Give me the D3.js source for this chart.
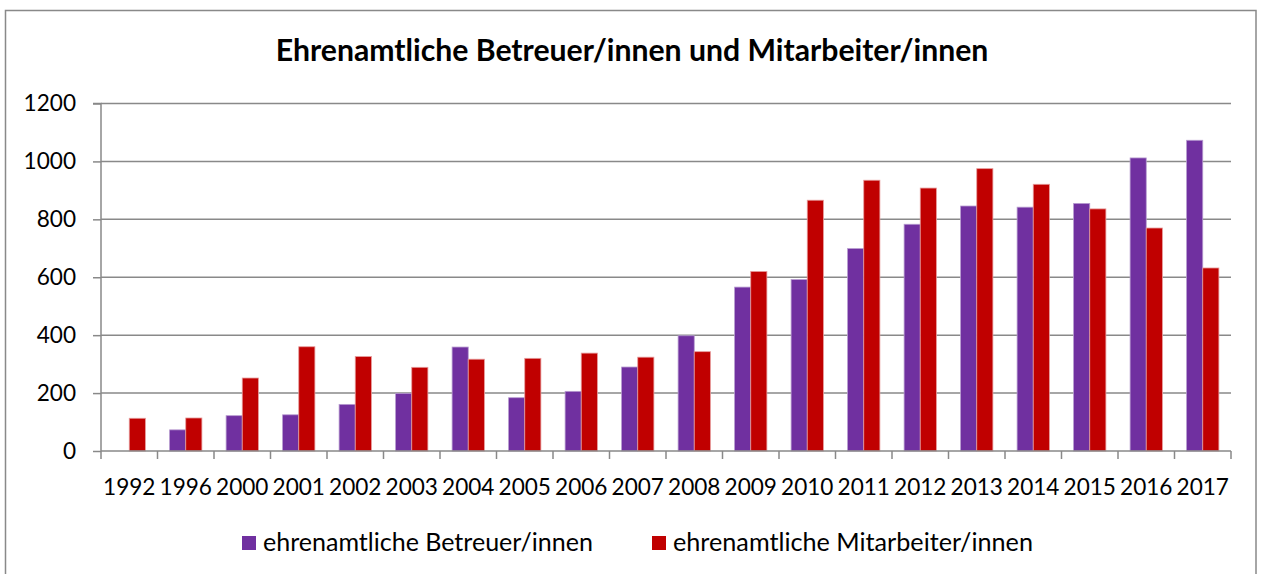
<!DOCTYPE html>
<html>
<head>
<meta charset="utf-8">
<script src="https://cdn.jsdelivr.net/npm/d3@7"></script>
<style>
  html, body { margin: 0; padding: 0; background: #fff; }
  svg { display: block; }
  text { font-family: Lato, "Open Sans", "DejaVu Sans", sans-serif; fill: #000; }
</style>
</head>
<body>
<svg id="chart" width="1261" height="574"></svg>
<script>
const years = ["1992","1996","2000","2001","2002","2003","2004","2005","2006","2007","2008","2009","2010","2011","2012","2013","2014","2015","2016","2017"];
const betreuer = [null, 73, 122, 125, 161, 199, 359, 184, 206, 290, 398, 566, 592, 699, 783, 846, 842, 855, 1012, 1073];
const mitarbeiter = [113, 114, 252, 360, 326, 289, 317, 320, 338, 324, 343, 620, 866, 935, 908, 975, 921, 836, 770, 632];
const seriesNames = ["ehrenamtliche Betreuer/innen", "ehrenamtliche Mitarbeiter/innen"];
const seriesColors = ["#7030A0", "#C00000"];
const yTicks = [0, 200, 400, 600, 800, 1000, 1200];
const titleText = "Ehrenamtliche Betreuer/innen und Mitarbeiter/innen";

const svg = d3.select("#chart");
const plot = { left: 101, right: 1231, top: 103.5, bottom: 451 };
const gridColor = "#898989";
const tickFont = 22.6;

// outer border
svg.append("rect").attr("x", 5.5).attr("y", 10.5).attr("width", 1250.5).attr("height", 600)
  .attr("fill", "none").attr("stroke", gridColor).attr("stroke-width", 1.5);

function fitText(sel, target) {
  const n = sel.node();
  const fs = parseFloat(sel.attr("font-size"));
  const w = n.getComputedTextLength();
  sel.attr("font-size", (fs * target / w).toFixed(2));
}

// title
const title = svg.append("text").attr("x", 632).attr("y", 61).attr("text-anchor", "middle")
  .attr("font-weight", "bold").attr("font-size", 24).text(titleText);
fitText(title, 713);

const x = d3.scaleBand().domain(years).range([plot.left, plot.right]).paddingInner(0).paddingOuter(0);
const xi = d3.scaleBand().domain([0, 1]).range([0, x.bandwidth()]).paddingInner(0).paddingOuter(0.75);
const y = d3.scaleLinear().domain([0, 1200]).range([plot.bottom, plot.top]);

// gridlines
svg.append("g").selectAll("line").data(yTicks.filter(d => d > 0)).join("line")
  .attr("x1", plot.left).attr("x2", plot.right)
  .attr("y1", d => y(d)).attr("y2", d => y(d))
  .attr("stroke", gridColor).attr("stroke-width", 1.5);

// y axis
const yAxis = d3.axisLeft(y).tickValues(yTicks).tickSize(8).tickPadding(16).tickFormat(d3.format("d"));
const gy = svg.append("g").attr("transform", `translate(${plot.left},0)`).call(yAxis);
gy.select(".domain").attr("stroke", gridColor).attr("stroke-width", 1.5).attr("d", `M-8,${y(1200)}H0V${y(0)}`);
gy.selectAll(".tick line").attr("stroke", gridColor).attr("stroke-width", 1.5);
gy.selectAll(".tick text").attr("font-size", tickFont).attr("font-family", "Lato, sans-serif").attr("fill", "#000")
  .attr("x", -25);

// bars
const data = years.map((yr, i) => ({ yr, vals: [betreuer[i], mitarbeiter[i]] }));
const groups = svg.append("g").selectAll("g").data(data).join("g")
  .attr("transform", d => `translate(${x(d.yr)},0)`);
groups.selectAll("rect").data(d => d.vals.map((v, k) => ({ v, k })).filter(e => e.v != null)).join("rect")
  .attr("x", e => xi(e.k)).attr("width", xi.bandwidth())
  .attr("y", e => y(e.v)).attr("height", e => y(0) - y(e.v))
  .attr("fill", e => seriesColors[e.k])
  .attr("stroke", e => e.k === 0 ? "#b79bd0" : "#e69a9a").attr("stroke-width", 0.8);

// x axis
const xAxis = d3.axisBottom(x).tickSize(0).tickPadding(0);
const gx = svg.append("g").attr("transform", `translate(0,${plot.bottom})`).call(xAxis);
gx.select(".domain").attr("stroke", gridColor).attr("stroke-width", 1.5).attr("d", `M${plot.left},0H${plot.right}`);
gx.selectAll(".tick text").attr("font-size", tickFont).attr("font-family", "Lato, sans-serif").attr("fill", "#000")
  .attr("y", 44).attr("dy", null);
// boundary ticks
const bounds = years.map(yr => x(yr)).concat([plot.right]);
gx.append("g").selectAll("line").data(bounds).join("line")
  .attr("x1", d => d).attr("x2", d => d).attr("y1", 0).attr("y2", 8)
  .attr("stroke", gridColor).attr("stroke-width", 1.5);

// legend
const legendX = [242, 652];
const legendTarget = [330, 360];
const lg = svg.append("g").selectAll("g").data(seriesNames).join("g")
  .attr("transform", (d, i) => `translate(${legendX[i]},0)`);
lg.append("rect").attr("x", 0).attr("y", 536).attr("width", 14).attr("height", 14)
  .attr("fill", (d, i) => seriesColors[i]);
lg.append("text").attr("x", 21).attr("y", 551).attr("font-size", 22).text(d => d)
  .each(function(d, i) { fitText(d3.select(this), legendTarget[i]); });
</script>
</body>
</html>
